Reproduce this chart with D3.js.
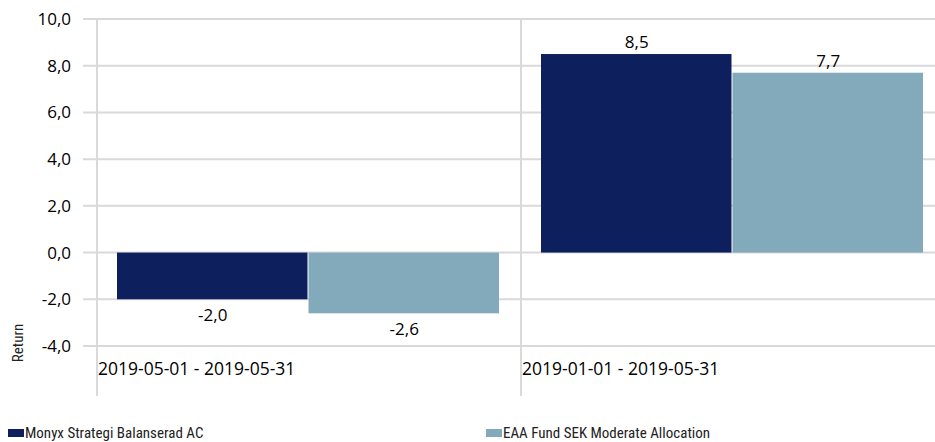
<!DOCTYPE html>
<html lang="sv">
<head>
    <meta charset="UTF-8">
    <script src="https://cdn.jsdelivr.net/npm/d3@7"></script>
    <style>
        body, html {
            width: 100%;
            height: 100%;
            margin: 0;
            overflow: hidden;
            background: #fff;
            font-family: "Open Sans", sans-serif;
        }
        .grid line { stroke: #d9d9d9; stroke-width: 2px; }
        .tick-label { font-size: 17px; fill: #000; }
        .cat-label { font-size: 17.5px; fill: #000; }
        .value-label { font-size: 17px; fill: #000; text-anchor: middle; }
        .narrow { font-family: "Liberation Sans Narrow", "Roboto", sans-serif; font-stretch: condensed; fill: #222; }
    </style>
</head>
<body>
<div id="chart"></div>
<script>
    // data
    const categories = ["2019-05-01 - 2019-05-31", "2019-01-01 - 2019-05-31"];
    const seriesNames = ["Monyx Strategi Balanserad AC", "EAA Fund SEK Moderate Allocation"];
    const monyx = [-2.0, 8.5];
    const eaa = [-2.6, 7.7];
    const yTicks = [-4, -2, 0, 2, 4, 6, 8, 10];
    const colors = ["#0d1f5c", "#82aabb"];

    const W = 935, H = 442;
    const fmt = v => v.toFixed(1).replace(".", ",");

    const svg = d3.select("#chart").append("svg")
        .attr("width", W).attr("height", H);

    const y = d3.scaleLinear().domain([-4, 10]).range([346, 19]);
    const x = d3.scaleBand().domain(categories).range([97, 945]).padding(0);
    const xs = d3.scaleBand().domain(seriesNames).range([20, 403]).padding(0);

    // horizontal grid lines
    const grid = svg.append("g").attr("class", "grid");
    grid.selectAll("line.h").data(yTicks).enter().append("line")
        .attr("x1", 83).attr("x2", W)
        .attr("y1", d => y(d)).attr("y2", d => y(d));
    // vertical category separators
    grid.selectAll("line.v").data(categories).enter().append("line")
        .attr("x1", d => x(d)).attr("x2", d => x(d))
        .attr("y1", y(10)).attr("y2", 396);

    // y tick labels
    svg.selectAll(".tick-label").data(yTicks).enter().append("text")
        .attr("class", "tick-label")
        .attr("x", 71).attr("y", d => y(d) + 6)
        .attr("text-anchor", "end")
        .text(d => fmt(d));

    // category labels
    svg.selectAll(".cat-label").data(categories).enter().append("text")
        .attr("class", "cat-label")
        .attr("x", d => x(d) + 1).attr("y", 375)
        .text(d => d);

    // bars
    const rows = [];
    categories.forEach((c, i) => {
        rows.push({cat: c, s: seriesNames[0], v: monyx[i], col: colors[0]});
        rows.push({cat: c, s: seriesNames[1], v: eaa[i], col: colors[1]});
    });

    svg.selectAll(".bar").data(rows).enter().append("rect")
        .attr("class", "bar")
        .attr("x", d => x(d.cat) + xs(d.s))
        .attr("width", xs.bandwidth() - 1)
        .attr("y", d => y(Math.max(0, d.v)))
        .attr("height", d => Math.abs(y(d.v) - y(0)))
        .attr("fill", d => d.col);

    svg.selectAll(".value-label").data(rows).enter().append("text")
        .attr("class", "value-label")
        .attr("x", d => x(d.cat) + xs(d.s) + xs.bandwidth() / 2)
        .attr("y", d => d.v >= 0 ? y(d.v) - 6 : y(d.v) + 22)
        .text(d => fmt(d.v));

    // y axis title
    svg.append("text")
        .attr("class", "narrow")
        .attr("transform", "translate(23,343) rotate(-90)")
        .attr("text-anchor", "middle")
        .style("font-size", "15px")
        .text("Return");

    // legend
    const legX = [8, 486];
    const leg = svg.selectAll(".leg").data(seriesNames).enter().append("g")
        .attr("transform", (d, i) => `translate(${legX[i]},0)`);
    leg.append("rect")
        .attr("x", 0).attr("y", 429).attr("width", 16).attr("height", 8)
        .attr("fill", (d, i) => colors[i]);
    leg.append("text")
        .attr("class", "narrow")
        .attr("x", 17).attr("y", 438)
        .style("font-size", "15px")
        .text(d => d);
</script>
</body>
</html>
